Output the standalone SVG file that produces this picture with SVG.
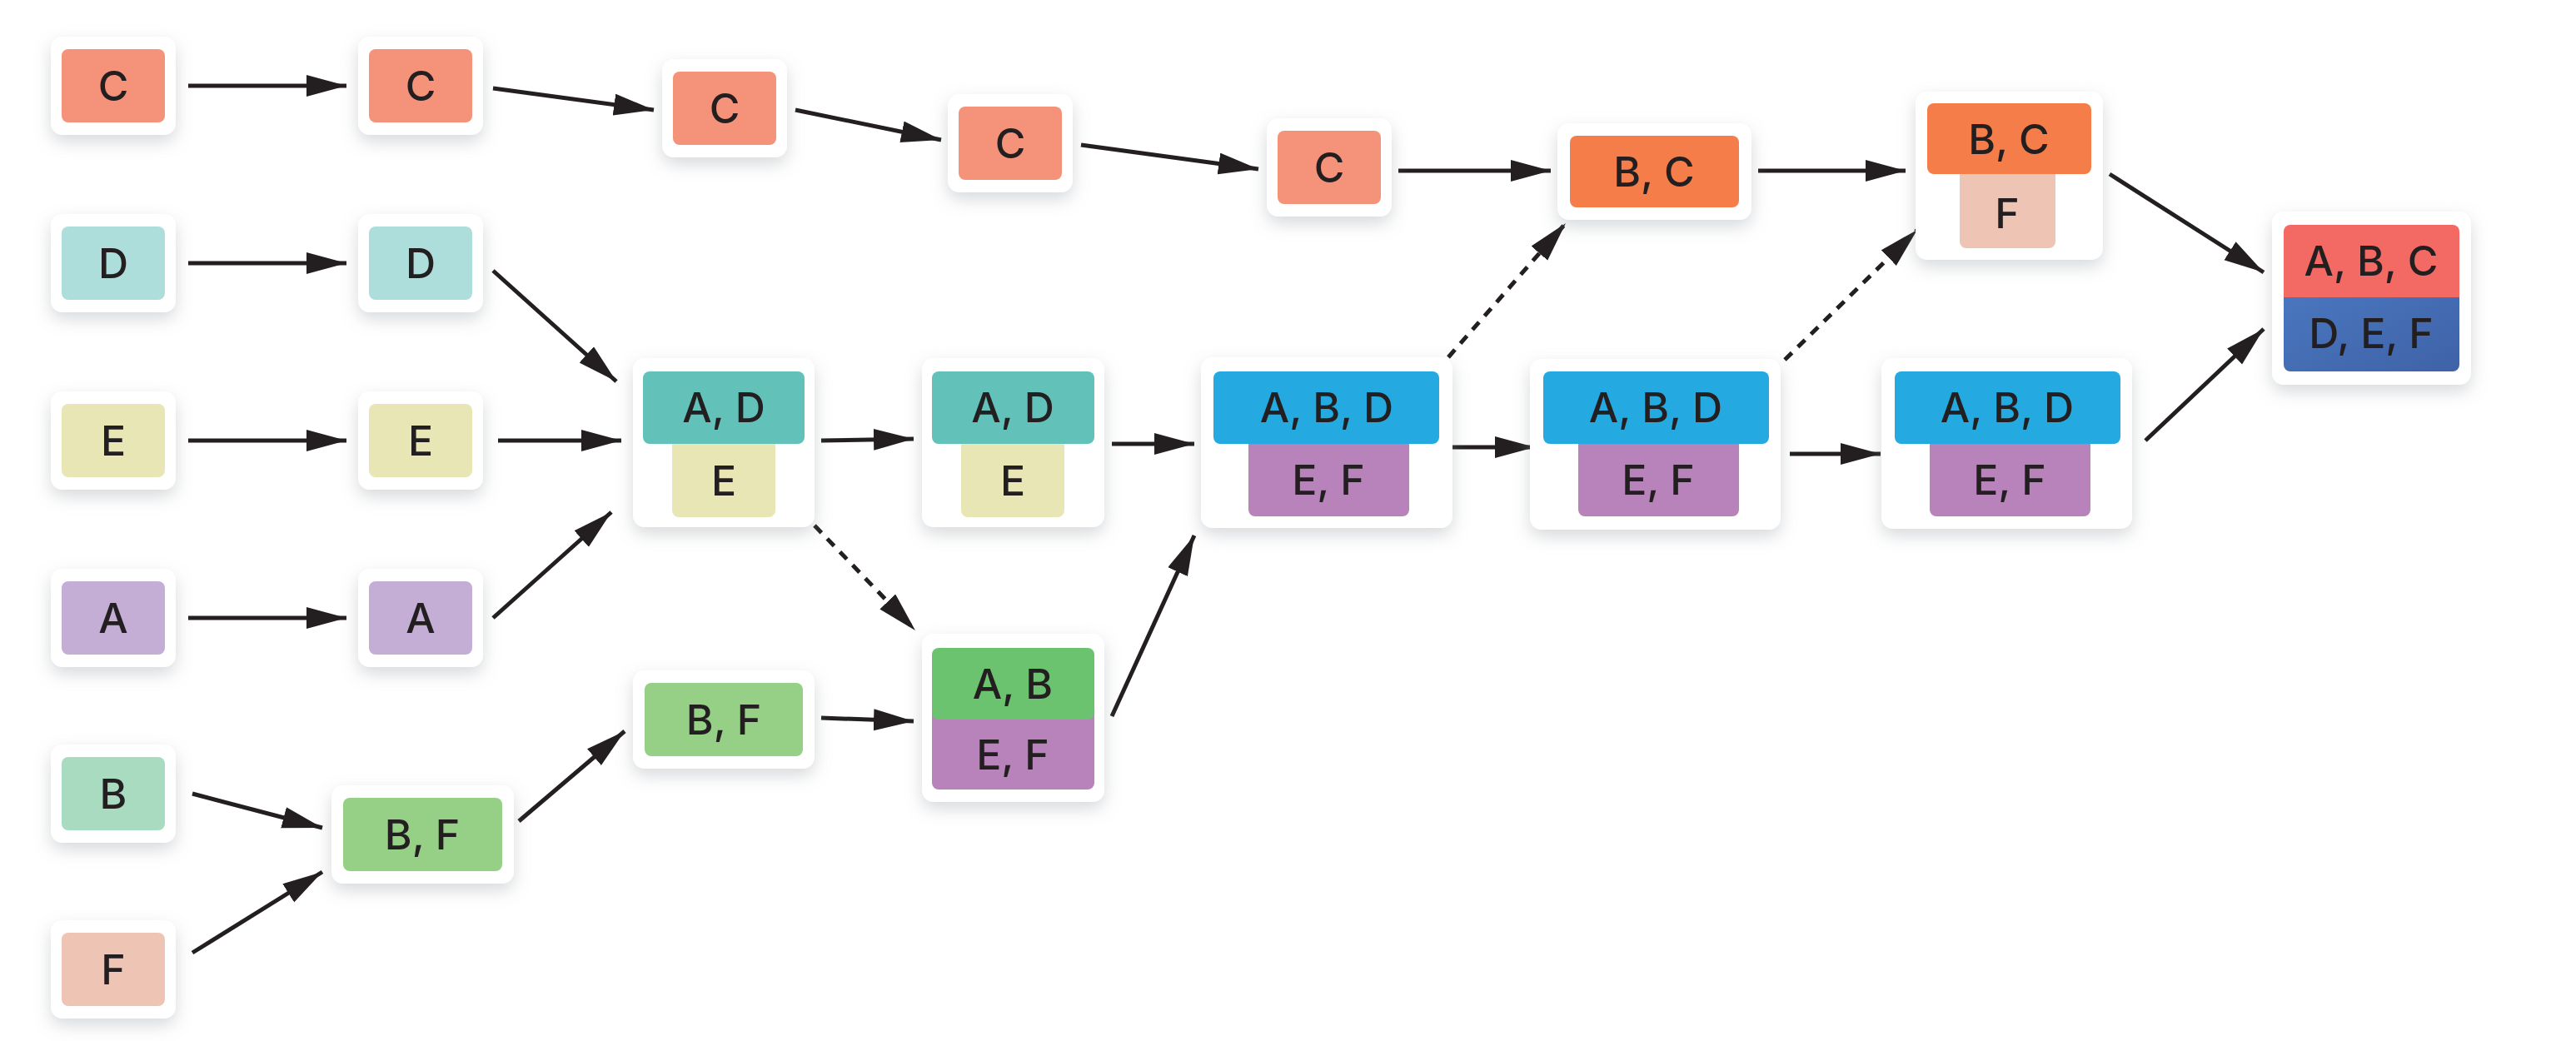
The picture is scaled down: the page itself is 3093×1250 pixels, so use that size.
<svg xmlns="http://www.w3.org/2000/svg" width="3093" height="1250" viewBox="0 0 3093 1250">
<defs>
<filter id="sh" x="-30%" y="-30%" width="160%" height="170%"><feDropShadow dx="0" dy="8" stdDeviation="10" flood-color="#8a9099" flood-opacity="0.35"/></filter>
<marker id="ar" markerUnits="userSpaceOnUse" markerWidth="50" markerHeight="28" refX="48" refY="13" orient="auto"><path d="M0,0 L48,13 L0,26 z" fill="#231f20"/></marker>
<linearGradient id="blu" x1="0" y1="0" x2="1" y2="1"><stop offset="0" stop-color="#4a78c0"/><stop offset="1" stop-color="#3f62a8"/></linearGradient>
</defs>
<style>
.o{fill:#fff;filter:url(#sh)}
text{font-family:Inter,"Noto Sans",sans-serif;font-weight:500;font-size:50px;fill:#231f20;text-anchor:middle;dominant-baseline:central}
.e{stroke:#231f20;stroke-width:5;fill:none;marker-end:url(#ar)}
.d{stroke-dasharray:12 10}
</style>
<g id="edges">
<line class="e" x1="226" y1="103" x2="416" y2="103"/>
<line class="e" x1="592" y1="106" x2="785" y2="132"/>
<line class="e" x1="955" y1="132" x2="1130" y2="168"/>
<line class="e" x1="1298" y1="174" x2="1511" y2="203"/>
<line class="e" x1="1679" y1="205" x2="1862" y2="205"/>
<line class="e" x1="2111" y1="205" x2="2288" y2="205"/>
<line class="e" x1="2533" y1="209" x2="2718" y2="327"/>
<line class="e" x1="226" y1="316" x2="416" y2="316"/>
<line class="e" x1="592" y1="325" x2="740" y2="458"/>
<line class="e" x1="226" y1="529" x2="416" y2="529"/>
<line class="e" x1="598" y1="529" x2="746" y2="529"/>
<line class="e" x1="226" y1="742" x2="416" y2="742"/>
<line class="e" x1="592" y1="742" x2="734" y2="615"/>
<line class="e" x1="986" y1="529" x2="1097" y2="527"/>
<line class="e d" x1="978" y1="631" x2="1099" y2="757"/>
<line class="e" x1="231" y1="953" x2="387" y2="994"/>
<line class="e" x1="231" y1="1144" x2="387" y2="1047"/>
<line class="e" x1="623" y1="986" x2="750" y2="878"/>
<line class="e" x1="986" y1="862" x2="1097" y2="866"/>
<line class="e" x1="1335" y1="860" x2="1434" y2="643"/>
<line class="e" x1="1335" y1="533" x2="1434" y2="533"/>
<line class="e" x1="1735" y1="537" x2="1843" y2="537"/>
<line class="e" x1="2149" y1="545" x2="2258" y2="545"/>
<line class="e" x1="2576" y1="529" x2="2718" y2="395"/>
<line class="e d" x1="1739" y1="429" x2="1880" y2="268"/>
<line class="e d" x1="2143" y1="432" x2="2302" y2="276"/>
</g>
<g id="n_c1"><rect class="o" x="61" y="44" width="150" height="118" rx="14"/><rect x="74" y="59" width="124" height="88" rx="8" fill="#f5927a"/><text x="136" y="103">C</text></g>
<g id="n_c2"><rect class="o" x="430" y="44" width="150" height="118" rx="14"/><rect x="443" y="59" width="124" height="88" rx="8" fill="#f5927a"/><text x="505" y="103">C</text></g>
<g id="n_c3"><rect class="o" x="795" y="71" width="150" height="118" rx="14"/><rect x="808" y="86" width="124" height="88" rx="8" fill="#f5927a"/><text x="870" y="130">C</text></g>
<g id="n_c4"><rect class="o" x="1138" y="113" width="150" height="118" rx="14"/><rect x="1151" y="128" width="124" height="88" rx="8" fill="#f5927a"/><text x="1213" y="172">C</text></g>
<g id="n_c5"><rect class="o" x="1521" y="142" width="150" height="118" rx="14"/><rect x="1534" y="157" width="124" height="88" rx="8" fill="#f5927a"/><text x="1596" y="201">C</text></g>
<g id="n_d1"><rect class="o" x="61" y="257" width="150" height="118" rx="14"/><rect x="74" y="272" width="124" height="88" rx="8" fill="#addedb"/><text x="136" y="316">D</text></g>
<g id="n_d2"><rect class="o" x="430" y="257" width="150" height="118" rx="14"/><rect x="443" y="272" width="124" height="88" rx="8" fill="#addedb"/><text x="505" y="316">D</text></g>
<g id="n_e1"><rect class="o" x="61" y="470" width="150" height="118" rx="14"/><rect x="74" y="485" width="124" height="88" rx="8" fill="#e8e6b4"/><text x="136" y="529">E</text></g>
<g id="n_e2"><rect class="o" x="430" y="470" width="150" height="118" rx="14"/><rect x="443" y="485" width="124" height="88" rx="8" fill="#e8e6b4"/><text x="505" y="529">E</text></g>
<g id="n_a1"><rect class="o" x="61" y="683" width="150" height="118" rx="14"/><rect x="74" y="698" width="124" height="88" rx="8" fill="#c4aed6"/><text x="136" y="742">A</text></g>
<g id="n_a2"><rect class="o" x="430" y="683" width="150" height="118" rx="14"/><rect x="443" y="698" width="124" height="88" rx="8" fill="#c4aed6"/><text x="505" y="742">A</text></g>
<g id="n_b"><rect class="o" x="61" y="894" width="150" height="118" rx="14"/><rect x="74" y="909" width="124" height="88" rx="8" fill="#a9dbc0"/><text x="136" y="953">B</text></g>
<g id="n_f"><rect class="o" x="61" y="1105" width="150" height="118" rx="14"/><rect x="74" y="1120" width="124" height="88" rx="8" fill="#eec4b4"/><text x="136" y="1164">F</text></g>
<g id="n_bf1"><rect class="o" x="398" y="943" width="219" height="118" rx="14"/><rect x="412" y="958" width="191" height="88" rx="8" fill="#96cf86"/><text x="507" y="1002">B, F</text></g>
<g id="n_bf2"><rect class="o" x="760" y="805" width="218" height="118" rx="14"/><rect x="774" y="820" width="190" height="88" rx="8" fill="#96cf86"/><text x="869" y="864">B, F</text></g>
<g id="n_ade1"><rect class="o" x="760" y="430" width="218" height="203" rx="14"/><rect x="807" y="520" width="124" height="101" rx="8" fill="#e8e6b4"/><rect x="772" y="446" width="194" height="87" rx="8" fill="#62c2b9"/><text x="869" y="489">A, D</text><text x="869" y="577">E</text></g>
<g id="n_ade2"><rect class="o" x="1107" y="430" width="219" height="203" rx="14"/><rect x="1154" y="520" width="124" height="101" rx="8" fill="#e8e6b4"/><rect x="1119" y="446" width="195" height="87" rx="8" fill="#62c2b9"/><text x="1216" y="489">A, D</text><text x="1216" y="577">E</text></g>
<g id="n_abef"><rect class="o" x="1107" y="761" width="219" height="202" rx="14"/><rect x="1119" y="830" width="195" height="118" rx="8" fill="#b883ba"/><rect x="1119" y="778" width="195" height="86" rx="8" fill="#6bc36f"/><text x="1216" y="821">A, B</text><text x="1216" y="906">E, F</text></g>
<g id="n_abd1"><rect class="o" x="1442" y="429" width="302" height="205" rx="14"/><rect x="1499" y="520" width="193" height="100" rx="8" fill="#b883ba"/><rect x="1457" y="446" width="271" height="87" rx="8" fill="#24a9e1"/><text x="1593" y="489">A, B, D</text><text x="1595" y="576">E, F</text></g>
<g id="n_abd2"><rect class="o" x="1837" y="431" width="301" height="205" rx="14"/><rect x="1895" y="520" width="193" height="100" rx="8" fill="#b883ba"/><rect x="1853" y="446" width="271" height="87" rx="8" fill="#24a9e1"/><text x="1988" y="489">A, B, D</text><text x="1991" y="576">E, F</text></g>
<g id="n_abd3"><rect class="o" x="2259" y="430" width="301" height="205" rx="14"/><rect x="2317" y="520" width="193" height="100" rx="8" fill="#b883ba"/><rect x="2275" y="446" width="271" height="87" rx="8" fill="#24a9e1"/><text x="2410" y="489">A, B, D</text><text x="2413" y="576">E, F</text></g>
<g id="n_bc"><rect class="o" x="1870" y="148" width="233" height="116" rx="14"/><rect x="1885" y="163" width="203" height="86" rx="8" fill="#f47d4a"/><text x="1986" y="206">B, C</text></g>
<g id="n_bcf"><rect class="o" x="2300" y="110" width="225" height="202" rx="14"/><rect x="2353" y="198" width="115" height="100" rx="8" fill="#eec4b4"/><rect x="2314" y="124" width="197" height="85" rx="8" fill="#f47d4a"/><text x="2412" y="167">B, C</text><text x="2410" y="256">F</text></g>
<g id="n_final"><rect class="o" x="2728" y="254" width="239" height="208" rx="14"/><rect x="2742" y="340" width="211" height="106" rx="8" fill="url(#blu)"/><rect x="2742" y="270" width="211" height="87" rx="8" fill="#f26a63"/><rect x="2742" y="345" width="211" height="12" fill="#f26a63"/><text x="2847" y="313">A, B, C</text><text x="2847" y="400">D, E, F</text></g>
</svg>
